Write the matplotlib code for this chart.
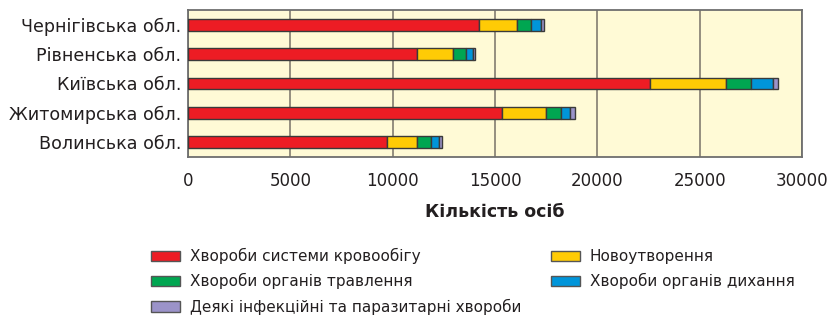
import matplotlib
matplotlib.use('Agg')
import matplotlib.pyplot as plt
import matplotlib.patches as mpatches
import numpy as np

plt.rcParams['font.family'] = ['DejaVu Sans']

# ── data ──────────────────────────────────────────────────────────────────────
regions = ['Чернігівська обл.', 'Рівненська обл.', 'Київська обл.',
           'Житомирська обл.', 'Волинська обл.']
circulatory = [14200, 11170, 22570, 15320, 9740]
neoplasms   = [1890, 1760, 3700, 2150, 1460]
digestive   = [670, 640, 1230, 750, 660]
respiratory = [510, 340, 1060, 460, 400]
infectious  = [130, 90, 260, 220, 160]

series = [
    ('Хвороби системи кровообігу', circulatory, '#ed1c24'),
    ('Новоутворення', neoplasms, '#ffcb05'),
    ('Хвороби органів травлення', digestive, '#00a651'),
    ('Хвороби органів дихання', respiratory, '#0095da'),
    ('Деякі інфекційні та паразитарні хвороби', infectious, '#9b93c9'),
]

fig = plt.figure(figsize=(8.31, 3.16), dpi=100, facecolor='white')
ax = fig.add_axes([188 / 831, 1 - 157 / 316, 614 / 831, 147 / 316])
ax.set_facecolor('#fffad6')

y = np.arange(len(regions))
left = np.zeros(len(regions))
for label, vals, color in series:
    ax.barh(y, vals, left=left, height=0.4, color=color,
            edgecolor='#3a3a3a', linewidth=1.0, zorder=3)
    left += np.array(vals)

ax.set_xlim(0, 30000)
ax.set_ylim(len(regions) - 0.5, -0.5)
ax.set_xticks(np.arange(0, 30001, 5000))
ax.set_yticks(y)
ax.set_yticklabels(regions, fontsize=12.6, color='#231f20')
ax.tick_params(axis='x', labelsize=12, colors='#231f20', length=0, pad=11)
ax.tick_params(axis='y', length=0, pad=5)
ax.grid(axis='x', color='#8c8678', linewidth=1.3, zorder=1)
for s in ax.spines.values():
    s.set_color('#6e6e6e')
    s.set_linewidth(1.3)

ax.set_xlabel('Кількість осіб', fontsize=12.5, fontweight='bold',
              color='#231f20', labelpad=9)

handles = [mpatches.Patch(facecolor=c, edgecolor='#555555', linewidth=1.0, label=l)
           for l, _, c in series]
leg_kw = dict(frameon=False, fontsize=11, handlelength=1.9, handleheight=0.65,
              handletextpad=0.65, labelspacing=0.6, borderaxespad=0,
              borderpad=0, labelcolor='#231f20')
fig.legend([handles[i] for i in (0, 2, 4)],
           [series[i][0] for i in (0, 2, 4)],
           loc='upper left', bbox_to_anchor=(151 / 831, 1 - 248 / 316),
           **leg_kw)
fig.legend([handles[i] for i in (1, 3)], [series[i][0] for i in (1, 3)],
           loc='upper left', bbox_to_anchor=(551 / 831, 1 - 249 / 316),
           **leg_kw)

fig.savefig('out.png', dpi=100, facecolor='white')
